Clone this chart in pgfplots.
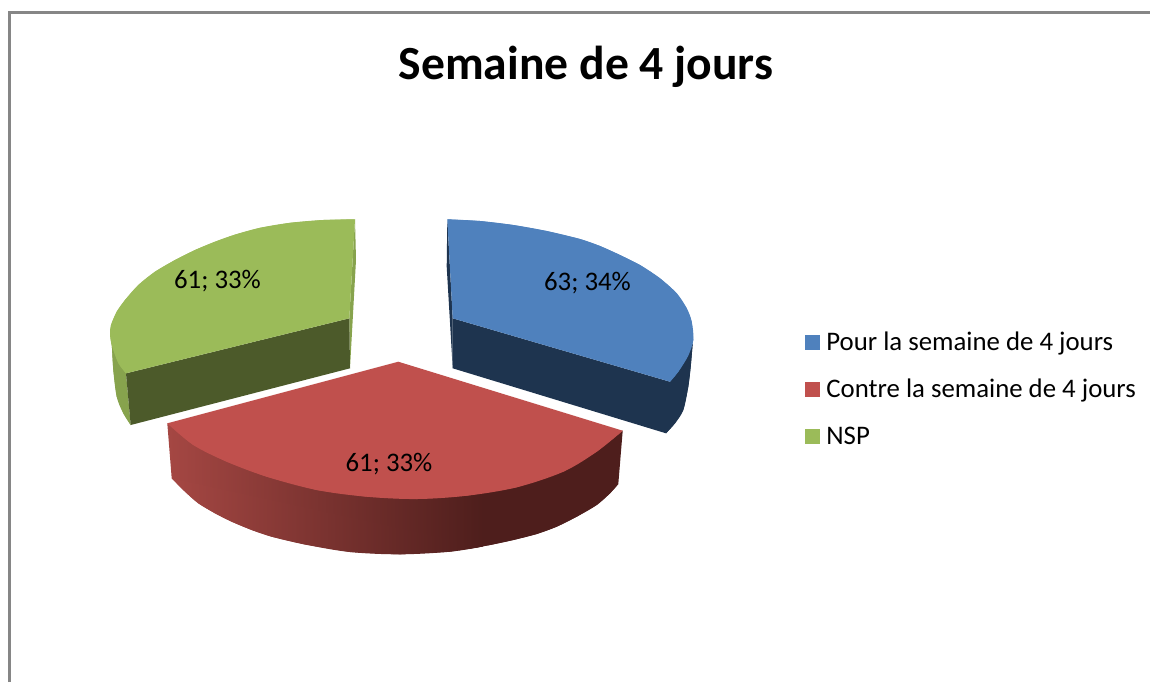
\documentclass[border=0pt]{standalone}
\usepackage{fontspec}
\setmainfont{Carlito}
\usepackage{pgfplots}
\pgfplotsset{compat=1.18}
\definecolor{bleu}{RGB}{79,129,189}
\definecolor{rouge}{RGB}{192,80,77}
\definecolor{vert}{RGB}{155,187,89}
\definecolor{bleufonce}{RGB}{30,52,79}
\definecolor{vertfonce}{RGB}{76,90,42}
\definecolor{vertcote}{RGB}{135,163,77}
\definecolor{rougeclair}{RGB}{165,71,67}
\definecolor{rougefonce}{RGB}{78,30,28}
\definecolor{cadre}{RGB}{134,134,134}
\pgfplotsset{cap/.style={forget plot, smooth, tension=0.55, draw=none}}
% coordinates are the pixels of the picture, y going down
% each curved edge: a plain polygon, then a smooth "cap" through the same points
\begin{document}
\begin{tikzpicture}
\begin{axis}[
  scale only axis, width=575pt, height=341pt,
  xmin=0, xmax=1150, ymin=0, ymax=682, y dir=reverse,
  axis line style={draw=none}, ticks=none,
  legend style={at={(axis cs:805,327)}, anchor=north west, draw=none, fill=none,
    font=\fontsize{13.4}{15}\selectfont, row sep=9pt, cells={anchor=west}, inner sep=0pt},
  legend image code/.code={\fill[#1] (0pt,-3.7pt) rectangle (7.5pt,3.8pt); \path (8.5pt,0pt);},
]
% frame
\addplot[forget plot, cadre, line width=1.5pt] coordinates {(9.5,682) (9.5,12) (1150,12)};

% green sides
\addplot[forget plot, draw=none, fill=vertcote] coordinates {(110,330) (111.7,343.3) (113.3,370) (116.7,396.7) (123.3,413.3) (130.7,425) (126,373.3)} --cycle;
\addplot[cap, fill=vertcote] coordinates {(110,330) (111.7,343.3) (113.3,370) (116.7,396.7) (123.3,413.3) (130.7,425)} --cycle;
\addplot[forget plot, draw=none, fill=vertcote] coordinates {(355,219.3) (356,260) (350,368.3) (349.3,318.3)} --cycle;
\addplot[forget plot, draw=none, fill=vertfonce] coordinates {(126,373.3) (349.3,318.3) (350,368.3) (130.7,425)} --cycle;

% blue sides
\addplot[forget plot, draw=none, fill=bleufonce] coordinates {(447.3,219.3) (446.7,266.7) (452.7,368.3) (452.7,318.3)} --cycle;
\addplot[forget plot, draw=none, fill=bleufonce] coordinates {(452.7,318.3) (670,381.7) (692.7,343.3) (690.7,366.7) (688.3,386.7) (683.3,410) (675,423.3) (666,433.3) (452.7,368.3)} --cycle;
\addplot[cap, fill=bleufonce] coordinates {(692.7,343.3) (690.7,366.7) (688.3,386.7) (683.3,410) (675,423.3) (666,433.3)} --cycle;

% red sides
\addplot[forget plot, draw=none, fill=rougefonce] coordinates {(470,494) (622.7,430.7) (618.3,484) (610,493.3) (596.7,505) (576.7,516.7) (556.7,526.7) (536.7,534) (513.3,540) (490,545) (470,548.5)} --cycle;
\addplot[cap, fill=rougefonce] coordinates {(618.3,484) (610,493.3) (596.7,505) (576.7,516.7) (556.7,526.7) (536.7,534) (513.3,540) (490,545) (470,548.5)} --cycle;
\addplot[forget plot, draw=none, left color=rougeclair, right color=rougefonce] coordinates {(167.3,423.3) (483,493.5) (483,546.5) (450,551.7) (400,554.3) (350,552) (305,544.5) (271.7,536.7) (251.7,530) (231.7,521.7) (215,513.3) (198.3,503.3) (185,491.7) (171.7,478.3)} --cycle;
\addplot[cap, left color=rougeclair, right color=rougefonce] coordinates {(171.7,478.3) (185,491.7) (198.3,503.3) (215,513.3) (231.7,521.7) (251.7,530) (271.7,536.7) (305,544.5) (350,552) (400,554.3) (450,551.7) (483,546.5)} --cycle;

% top faces
\addplot[draw=none, fill=bleu] coordinates {(447.3,219.3) (480,221) (513.3,225) (546.7,231) (580,239) (600,246) (620,255) (640,265) (660,278.3) (676.7,293.3) (686.7,308.3) (691.7,321.7) (693.3,340) (688,356) (678.3,371.7) (670,381.7) (452.7,318.3)} --cycle;
\addlegendentry{Pour la semaine de 4 jours}
\addplot[cap, fill=bleu] coordinates {(447.3,219.3) (480,221) (513.3,225) (546.7,231) (580,239) (600,246) (620,255) (640,265) (660,278.3) (676.7,293.3) (686.7,308.3) (691.7,321.7) (693.3,340) (688,356) (678.3,371.7) (670,381.7)} --cycle;
\addplot[draw=none, fill=rouge] coordinates {(398.3,361.7) (622.7,430.7) (596.7,451.7) (563.3,471.7) (516.7,487.3) (466.7,495.7) (416.7,499) (366.7,496.7) (316.7,490) (266.7,476.7) (226.7,461.7) (193.3,445) (167.3,423.3)} --cycle;
\addlegendentry{Contre la semaine de 4 jours}
\addplot[cap, fill=rouge] coordinates {(622.7,430.7) (596.7,451.7) (563.3,471.7) (516.7,487.3) (466.7,495.7) (416.7,499) (366.7,496.7) (316.7,490) (266.7,476.7) (226.7,461.7) (193.3,445) (167.3,423.3)} --cycle;
\addplot[draw=none, fill=vert] coordinates {(355,219.3) (323,220) (290,222.8) (260,227.8) (235,234.6) (215,241.7) (195,250) (175,260) (155,271.7) (138.3,285) (125,300) (116.7,311.7) (111,325) (110,334) (111.7,345) (118.3,363) (126,373.3) (349.3,318.3)} --cycle;
\addlegendentry{NSP}
\addplot[cap, fill=vert] coordinates {(355,219.3) (323,220) (290,222.8) (260,227.8) (235,234.6) (215,241.7) (195,250) (175,260) (155,271.7) (138.3,285) (125,300) (116.7,311.7) (111,325) (110,334) (111.7,345) (118.3,363) (126,373.3)} --cycle;

% texts
\node[font=\fontsize{23.8}{28}\selectfont\bfseries] at (axis cs:586,67) {Semaine de 4 jours};
\node[font=\fontsize{13.4}{15}\selectfont] at (axis cs:587.5,283) {63; 34\%};
\node[font=\fontsize{13.4}{15}\selectfont] at (axis cs:217.5,281) {61; 33\%};
\node[font=\fontsize{13.4}{15}\selectfont] at (axis cs:389,464.5) {61; 33\%};
\end{axis}
\end{tikzpicture}
\end{document}
